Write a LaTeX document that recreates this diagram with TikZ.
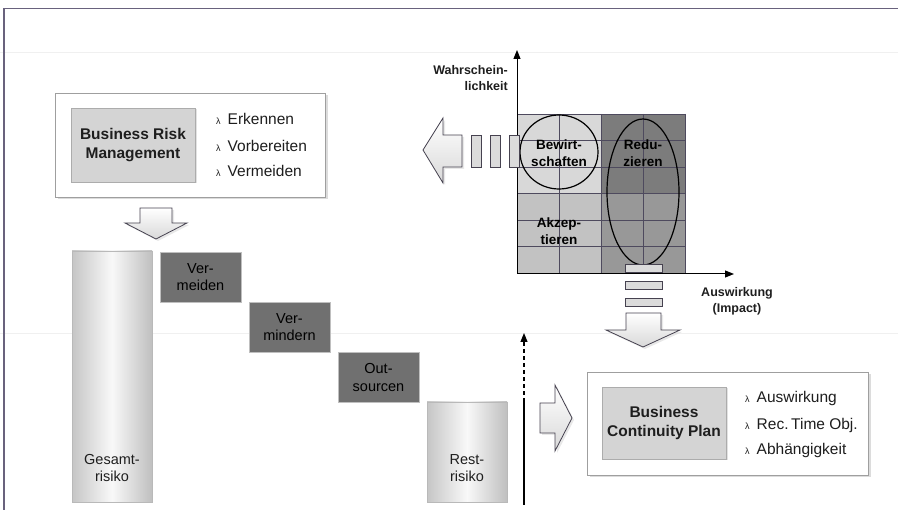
\documentclass[tikz,border=0pt]{standalone}
\usepackage{fontspec}
\setmainfont{Liberation Sans}
\usetikzlibrary{arrows.meta,shadows}
\definecolor{frame}{RGB}{105,98,125}
\definecolor{gridline}{RGB}{78,74,94}
\definecolor{cellA}{RGB}{216,216,216}
\definecolor{cellB}{RGB}{194,194,194}
\definecolor{cellC}{RGB}{124,124,124}
\definecolor{cellD}{RGB}{152,152,152}
\definecolor{boxgray}{RGB}{212,212,212}
\definecolor{darkfill}{RGB}{112,112,112}
\definecolor{arrowline}{RGB}{70,66,80}
\definecolor{txt}{RGB}{30,30,30}
\newcommand{\lam}{{\fontsize{9}{9}\selectfont λ}\hspace{7pt}}

\begin{document}
\begin{tikzpicture}[x=1pt,y=-1pt,font=\fontsize{15.5}{18}\selectfont,text=txt,
  outerbox/.style={draw=gray!75,fill=white,inner sep=0,drop shadow={shadow xshift=2.5pt,shadow yshift=-2.5pt,fill=gray!55}},
  titlebox/.style={draw=gray!65,fill=boxgray,align=center,inner sep=0,font=\bfseries\fontsize{15.5}{19}\selectfont,drop shadow={shadow xshift=1.5pt,shadow yshift=-1.5pt,fill=gray!45}},
  bullet/.style={anchor=base west,inner sep=0},
  bar/.style={draw=gray!55,left color=gray!45,right color=gray!50,middle color=gray!5,inner sep=0,minimum width=80pt},
  stepbox/.style={draw=gray!50,fill=darkfill,text=black,align=center,inner sep=0,minimum width=81pt,minimum height=50pt,font=\fontsize{14.5}{17.5}\selectfont},
  fat/.style={draw=arrowline,line width=0.8pt,top color=white,bottom color=gray!30,drop shadow={shadow xshift=2pt,shadow yshift=-2pt,fill=gray!35}},
  dashbox/.style={draw=arrowline,line width=0.8pt,fill=gray!28},
  axislbl/.style={font=\bfseries\fontsize{12.5}{16}\selectfont,inner sep=0},
  celltxt/.style={font=\bfseries\fontsize{13.5}{17}\selectfont,align=center,inner sep=0,text=black},
  tip/.style={-{Triangle[length=9pt,width=7pt]}}]
  \useasboundingbox (0,0) rectangle (898,510);
  % frame and faint scan lines
  \draw[gray!12,line width=0.8pt] (0,52)--(898,52) (0,333)--(898,333);
  \draw[frame,line width=1.2pt] (4,510)--(4,8.5)--(898,8.5);

  % Business Risk Management
  \node[outerbox,minimum width=270pt,minimum height=104pt] (brmbox) at (190,145) {};
  \node[titlebox,minimum width=124pt,minimum height=74pt] (brm) at (133,145) {Business Risk\\Management};
  \foreach \t/\y [count=\i] in {Erkennen/125,Vorbereiten/152,Vermeiden/177}
    \node[bullet] (brm\i) at (216,\y) {\lam\t};
  \path[fat] (140,208)--(172,208)--(172,223)--(187,223)--(156,239)--(125,223)--(140,223)--cycle;

  % risk bars and measures
  \node[bar,minimum height=251pt] (gesamt) at (112,376.5) {};
  \node[align=center,inner sep=0,font=\fontsize{14.5}{17.5}\selectfont] (gesamtlbl) at (112,468) {Gesamt-\\risiko};
  \foreach \n/\t [count=\i from 0] in {vermeiden/Ver-\\meiden,vermindern/Ver-\\mindern,outsourcen/Out-\\sourcen}
    \node[stepbox] (\n) at ({200.5+89*\i},{277+50.3*\i}) {\t};
  \node[bar,minimum height=100pt] (rest) at (467,452) {};
  \node[align=center,inner sep=0,font=\fontsize{14.5}{17.5}\selectfont] (restlbl) at (467,468) {Rest-\\risiko};

  % risk matrix
  \fill[cellA] (517,114) rectangle (601,193.5);
  \fill[cellB] (517,193.5) rectangle (601,273);
  \fill[cellC] (601,114) rectangle (685,193.5);
  \fill[cellD] (601,193.5) rectangle (685,273);
  \foreach \gx in {559,601,643,685} \draw[gridline,line width=0.6pt] (\gx,114)--(\gx,273);
  \foreach \gy in {114,140.5,167,193.5,220,246.5} \draw[gridline,line width=0.5pt] (517,\gy)--(685,\gy);
  \coordinate (orig) at (517,274);
  \coordinate (ytip) at (517,50);
  \coordinate (xtip) at (734,274);
  \draw[line width=1pt,tip] (orig)--(ytip);
  \draw[line width=1pt,tip] (orig)--(xtip);
  \node[axislbl,align=right,anchor=east] (ylbl) at (508,78) {Wahrschein-\\lichkeit};
  \node[axislbl,align=center] (xlbl) at (737,301) {Auswirkung\\(Impact)};
  \draw[line width=1.2pt] (559,152) ellipse [x radius=39,y radius=37];
  \draw[line width=1.2pt] (643,192) ellipse [x radius=36,y radius=73];
  \node[celltxt] (bew) at (559,153) {Bewirt-\\schaften};
  \node[celltxt] (red) at (643,153) {Redu-\\zieren};
  \node[celltxt] (akz) at (559,231) {Akzep-\\tieren};

  % arrows out of the matrix
  \path[fat] (423,150)--(443,118)--(443,135)--(462,135)--(462,167)--(443,167)--(443,183)--cycle;
  \foreach \rx in {471,490,509} \path[dashbox] (\rx,135) rectangle ++(10,32);
  \foreach \ry in {264,281,298} \path[dashbox] (625,\ry) rectangle ++(37,8);
  \path[fat] (626,313)--(661,313)--(661,330)--(680,330)--(643,347)--(606,330)--(626,330)--cycle;

  % residual risk to continuity plan
  \coordinate (rbase) at (524,505);
  \coordinate (rmid) at (524,402);
  \coordinate (rtip) at (524,333);
  \draw[line width=1.1pt] (rbase)--(rmid);
  \draw[line width=1.1pt,dash pattern=on 4pt off 3pt,tip] (rmid)--(rtip);
  \path[fat] (540,403)--(555,403)--(555,385)--(572,418)--(555,451)--(555,433)--(540,433)--cycle;

  % Business Continuity Plan
  \node[outerbox,minimum width=281pt,minimum height=103pt] (bcpbox) at (727.5,423.5) {};
  \node[titlebox,minimum width=124pt,minimum height=72pt] (bcp) at (664,423) {Business\\Continuity Plan};
  \foreach \t/\y [count=\i] in {Auswirkung/403,Rec.\,Time Obj./430,Abhängigkeit/455}
    \node[bullet] (bcp\i) at (745,\y) {\lam\t};
\end{tikzpicture}
\end{document}
